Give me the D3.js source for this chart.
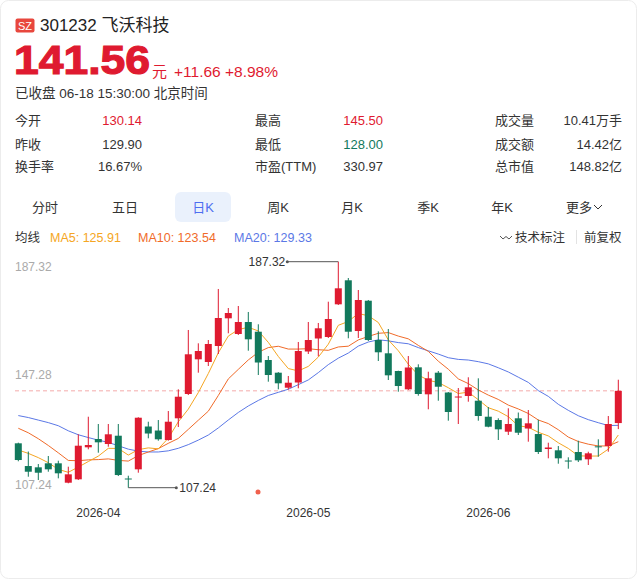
<!DOCTYPE html>
<html>
<head>
<meta charset="utf-8">
<script src="https://cdn.jsdelivr.net/npm/d3@7"></script>
<style>
  body { margin: 0; background: #fff; }
  text { font-family: "Liberation Sans", Arial, "Noto Sans CJK SC", sans-serif; }
</style>
</head>
<body>
<div id="chart"></div>
<script>
// trading days shown on the chart
const dates = [
  "2026-03-20","2026-03-23","2026-03-24","2026-03-25","2026-03-26","2026-03-27","2026-03-30","2026-03-31",
  "2026-04-01","2026-04-02","2026-04-03","2026-04-07","2026-04-08","2026-04-09","2026-04-10",
  "2026-04-13","2026-04-14","2026-04-15","2026-04-16","2026-04-17",
  "2026-04-20","2026-04-21","2026-04-22","2026-04-23","2026-04-24",
  "2026-04-27","2026-04-28","2026-04-29","2026-04-30",
  "2026-05-06","2026-05-07","2026-05-08",
  "2026-05-11","2026-05-12","2026-05-13","2026-05-14","2026-05-15",
  "2026-05-18","2026-05-19","2026-05-20","2026-05-21","2026-05-22",
  "2026-05-25","2026-05-26","2026-05-27","2026-05-28","2026-05-29",
  "2026-06-01","2026-06-02","2026-06-03","2026-06-04","2026-06-05",
  "2026-06-08","2026-06-09","2026-06-10","2026-06-11","2026-06-12",
  "2026-06-15","2026-06-16","2026-06-17","2026-06-18"
];

const open = [122.97,114.92,114.46,115.88,115.88,109.01,110.21,121.55,124.49,122.72,
  125.66,110.50,113.75,128.92,127.50,124.14,131.83,140.44,152.73,151.78,
  157.45,167.26,161.70,165.95,162.51,152.49,147.99,142.67,144.51,155.50,
  160.11,160.64,172.22,180.73,162.76,173.50,159.57,154.86,148.59,142.10,
  149.90,140.33,147.99,140.97,139.20,139.73,138.06,132.39,131.22,127.08,
  131.83,128.21,126.26,120.95,120.49,116.87,119.89,117.30,121.90,122.01,130.14];

const close = [117.05,112.90,112.55,113.75,112.34,111.98,122.12,122.37,123.32,126.16,
  111.73,110.40,132.04,126.44,124.39,130.62,139.48,154.51,155.68,158.16,
  167.37,169.14,165.95,159.82,151.60,147.17,144.23,144.44,155.68,159.57,
  163.72,167.02,177.89,162.51,173.75,159.57,155.22,147.06,143.27,149.83,
  140.44,146.00,143.02,134.06,139.55,142.81,132.64,128.85,127.93,129.81,
  126.72,130.05,119.89,121.48,117.65,116.70,116.94,119.42,121.65,129.81,141.56];

const high = [123.20,120.06,115.63,118.47,116.80,114.68,126.16,132.39,129.81,129.81,
  129.81,111.49,132.20,130.62,131.22,134.41,142.10,163.12,158.40,159.57,
  177.65,170.91,171.62,169.50,165.14,153.90,148.20,146.82,158.87,165.95,
  165.60,173.15,187.32,181.54,177.29,173.75,162.66,163.47,148.70,153.90,
  150.96,148.34,148.59,141.15,142.56,146.36,146.00,135.83,131.83,135.37,
  133.88,134.77,131.33,123.18,122.01,118.01,123.89,119.99,124.39,132.64,145.50];

const low = [116.60,111.13,109.96,112.90,110.56,108.80,109.96,120.84,119.64,121.76,
  111.38,107.24,112.55,124.74,123.89,123.89,128.74,140.08,147.99,150.36,
  154.61,161.95,161.35,155.78,147.17,144.80,142.10,142.03,142.46,154.61,
  153.80,160.28,171.98,160.18,160.28,159.22,152.13,145.40,141.25,141.86,
  139.84,135.02,138.06,130.98,129.81,137.71,130.98,128.64,124.14,125.91,
  125.91,123.54,119.18,117.65,115.74,113.97,116.34,115.28,118.22,119.99,128.00];

const ma5 = [120.60,119.40,117.90,116.10,113.72,112.70,114.55,116.51,118.43,121.19,
  121.14,118.80,120.73,121.35,121.00,124.78,130.59,135.09,140.94,147.69,
  155.04,160.97,163.26,164.09,162.78,158.74,153.75,149.45,148.62,150.22,
  153.53,158.09,164.78,166.14,168.98,168.15,165.79,159.62,155.77,150.99,
  147.16,145.32,144.51,142.67,140.61,141.09,138.42,135.58,134.36,132.41,
  129.19,128.67,126.88,125.59,123.16,121.15,118.53,118.44,118.47,120.90,125.91];

const ma10 = [128.30,126.70,124.60,122.20,119.60,116.90,116.80,117.10,117.20,117.45,
  116.92,116.67,118.62,119.89,121.10,122.96,124.70,127.91,131.15,134.35,
  139.91,145.78,149.17,152.51,155.23,156.89,157.36,156.36,156.36,156.50,
  156.13,155.92,157.11,157.38,159.60,160.84,161.94,162.20,160.96,159.98,
  157.66,155.55,152.07,149.22,145.80,144.13,141.87,140.05,138.51,136.51,
  135.14,133.54,131.23,129.97,127.78,125.17,123.60,122.66,122.03,122.03,123.54];

const ma20 = [132.80,132.10,131.20,130.30,129.20,127.40,126.00,125.00,124.10,123.30,
  122.10,120.90,120.20,119.90,119.90,120.30,121.20,122.50,124.10,125.90,
  128.42,131.23,133.90,136.20,138.16,139.92,141.03,142.13,143.75,145.42,
  148.02,150.85,153.14,154.95,157.42,158.86,159.65,159.28,158.66,158.24,
  156.89,155.74,154.59,153.30,152.70,152.48,151.90,151.12,149.74,148.25,
  146.40,144.55,141.65,139.60,136.79,134.65,132.74,131.35,130.27,129.27,129.33];

const yTicks = [187.32, 147.28, 107.24];
const monthTicks = ["2026-04", "2026-05", "2026-06"];
const lastPrice = 141.56;

const width = 638, height = 580;
const red = "#df1a30", green = "#12795c";
const c5 = "#f5a623", c10 = "#f06b2a", c20 = "#5b78e6";

const svg = d3.select("#chart").append("svg")
  .attr("width", width)
  .attr("height", height);

// card frame
svg.append("rect")
  .attr("x", 0.5).attr("y", 0.5)
  .attr("width", width - 2).attr("height", height - 2)
  .attr("rx", 8)
  .attr("fill", "#fff")
  .attr("stroke", "#ececec");

// ---- header ----
svg.append("rect")
  .attr("x", 15.5).attr("y", 18.5).attr("width", 19).attr("height", 14).attr("rx", 2)
  .attr("fill", "#e8473d");
svg.append("text")
  .attr("x", 25).attr("y", 29.5).attr("text-anchor", "middle")
  .style("font-size", "11px").attr("fill", "#fff").text("SZ");
svg.append("text")
  .attr("x", 40).attr("y", 31)
  .style("font-size", "17px").attr("fill", "#222").text("301232 飞沃科技");

svg.append("text")
  .attr("x", 14).attr("y", 74)
  .attr("textLength", 136).attr("lengthAdjust", "spacingAndGlyphs")
  .style("font-size", "41px").style("font-weight", "bold")
  .attr("fill", red).attr("stroke", red).attr("stroke-width", 1.2)
  .text("141.56");
svg.append("text")
  .attr("x", 152).attr("y", 77)
  .style("font-size", "15px").attr("fill", red).text("元");
svg.append("text")
  .attr("x", 174).attr("y", 77)
  .style("font-size", "15.5px").attr("fill", red).text("+11.66  +8.98%");
svg.append("text")
  .attr("x", 15).attr("y", 98)
  .style("font-size", "13.5px").attr("fill", "#333").text("已收盘 06-18 15:30:00 北京时间");

// ---- quote table ----
const statLabels = [["今开", "昨收", "换手率"], ["最高", "最低", "市盈(TTM)"], ["成交量", "成交额", "总市值"]];
const statValues = [["130.14", "129.90", "16.67%"], ["145.50", "128.00", "330.97"], ["10.41万手", "14.42亿", "148.82亿"]];
const statColors = [[red, "#333", "#333"], [red, green, "#333"], ["#333", "#333", "#333"]];
const labelX = [15, 255, 495];
const valueX = [142, 383, 622];
const rowY = [125, 149, 171];

statLabels.forEach((col, ci) => {
  col.forEach((lab, ri) => {
    svg.append("text")
      .attr("x", labelX[ci]).attr("y", rowY[ri])
      .style("font-size", "13px").attr("fill", "#333").text(lab);
    svg.append("text")
      .attr("x", valueX[ci]).attr("y", rowY[ri]).attr("text-anchor", "end")
      .style("font-size", "13px").attr("fill", statColors[ci][ri]).text(statValues[ci][ri]);
  });
});

// ---- period tabs ----
const tabs = ["分时", "五日", "日K", "周K", "月K", "季K", "年K"];
const tabX = [45, 125, 203, 278, 352, 428, 502];
svg.append("rect")
  .attr("x", 175).attr("y", 192).attr("width", 56).attr("height", 30).attr("rx", 6)
  .attr("fill", "#eaf1fc");
tabs.forEach((t, i) => {
  svg.append("text")
    .attr("x", tabX[i]).attr("y", 212).attr("text-anchor", "middle")
    .style("font-size", "13px")
    .attr("fill", t === "日K" ? "#4d6ef0" : "#333")
    .text(t);
});
svg.append("text")
  .attr("x", 566).attr("y", 212)
  .style("font-size", "13px").attr("fill", "#333").text("更多");
svg.append("path")
  .attr("d", "M594,205 L598,209 L602,205")
  .attr("fill", "none").attr("stroke", "#333").attr("stroke-width", 1);

// ---- MA legend ----
svg.append("text").attr("x", 15).attr("y", 242)
  .style("font-size", "12.5px").attr("fill", "#333").text("均线");
const legend = [["MA5: 125.91", 50, c5], ["MA10: 123.54", 138, c10], ["MA20: 129.33", 234, c20]];
legend.forEach(l => {
  svg.append("text").attr("x", l[1]).attr("y", 242)
    .style("font-size", "12.5px").attr("fill", l[2]).text(l[0]);
});
svg.append("path")
  .attr("d", "M500,236 L503,239 L506,236.5 L509,239 L512,236")
  .attr("fill", "none").attr("stroke", "#555").attr("stroke-width", 1);
svg.append("text").attr("x", 515).attr("y", 242)
  .style("font-size", "12.5px").attr("fill", "#333").text("技术标注");
svg.append("line")
  .attr("x1", 576.5).attr("x2", 576.5).attr("y1", 230).attr("y2", 244)
  .attr("stroke", "#e3e3e3");
svg.append("text").attr("x", 584).attr("y", 242)
  .style("font-size", "12.5px").attr("fill", "#333").text("前复权");

// ---- candlestick chart ----
const x = d3.scaleBand()
  .domain(dates)
  .range([13.3, 623.3]);

const y = d3.scaleLinear()
  .domain([107.24, 187.32])
  .range([487.7, 261.7]);

const cx = d => x(d) + x.bandwidth() / 2;

const candles = dates.map((d, i) => ({
  date: d, o: open[i], c: close[i], h: high[i], l: low[i]
}));

// y labels
const yOff = [5.5, 0, -3];
svg.append("g").selectAll("text")
  .data(yTicks)
  .join("text")
  .attr("x", 15)
  .attr("y", (d, i) => y(d) + yOff[i])
  .attr("dy", "0.35em")
  .style("font-size", "12px")
  .attr("fill", "#aaa")
  .text(d => d.toFixed(2));

// last price dashed line
svg.append("line")
  .attr("x1", 15).attr("x2", 623)
  .attr("y1", y(lastPrice)).attr("y2", y(lastPrice))
  .attr("stroke", "#f4aaaa")
  .attr("stroke-dasharray", "4,3");

// moving averages
const line = d3.line()
  .x((d, i) => cx(dates[i]))
  .y(d => y(d));

[[ma20, c20], [ma10, c10], [ma5, c5]].forEach(s => {
  svg.append("path")
    .datum(s[0])
    .attr("fill", "none")
    .attr("stroke", s[1])
    .attr("stroke-width", 1)
    .attr("d", line);
});

// candles
const g = svg.append("g");
g.selectAll("line.wick")
  .data(candles)
  .join("line")
  .attr("class", "wick")
  .attr("x1", d => cx(d.date)).attr("x2", d => cx(d.date))
  .attr("y1", d => y(d.h)).attr("y2", d => y(d.l))
  .attr("stroke", d => d.c >= d.o ? red : green)
  .attr("stroke-width", 1);

g.selectAll("rect")
  .data(candles)
  .join("rect")
  .attr("x", d => cx(d.date) - 3.5)
  .attr("width", 7)
  .attr("y", d => y(Math.max(d.o, d.c)))
  .attr("height", d => Math.max(1, Math.abs(y(d.o) - y(d.c))))
  .attr("fill", d => d.c >= d.o ? red : green);

// high / low markers
const hiIdx = d3.maxIndex(high), loIdx = d3.minIndex(low);
const hx = cx(dates[hiIdx]), hy = y(high[hiIdx]);
svg.append("line").attr("x1", hx).attr("x2", hx - 51).attr("y1", hy).attr("y2", hy)
  .attr("stroke", "#555");
svg.append("circle").attr("cx", hx - 51).attr("cy", hy).attr("r", 1.5).attr("fill", "#555");
svg.append("text").attr("x", hx - 53).attr("y", hy).attr("dy", "0.35em")
  .attr("text-anchor", "end").style("font-size", "12px").attr("fill", "#333")
  .text(high[hiIdx].toFixed(2));

const lx = cx(dates[loIdx]), ly = y(low[loIdx]);
svg.append("line").attr("x1", lx).attr("x2", lx + 48).attr("y1", ly).attr("y2", ly)
  .attr("stroke", "#555");
svg.append("circle").attr("cx", lx + 48).attr("cy", ly).attr("r", 1.5).attr("fill", "#555");
svg.append("text").attr("x", lx + 51).attr("y", ly).attr("dy", "0.35em")
  .style("font-size", "12px").attr("fill", "#333")
  .text(low[loIdx].toFixed(2));

// event dot
svg.append("circle").attr("cx", 258).attr("cy", 492).attr("r", 2.5).attr("fill", "#f0604d");

// x axis (month labels only)
const tickDates = monthTicks.map(m => dates.find(d => d.startsWith(m)));
const xAxis = svg.append("g")
  .attr("transform", "translate(0,505)")
  .call(d3.axisBottom(x).tickValues(tickDates).tickSize(0).tickFormat(d => d.slice(0, 7)));
xAxis.select(".domain").remove();
xAxis.selectAll("text")
  .style("font-size", "12px")
  .style("font-family", "\"Liberation Sans\", Arial, sans-serif")
  .attr("fill", "#333");
</script>
</body>
</html>
